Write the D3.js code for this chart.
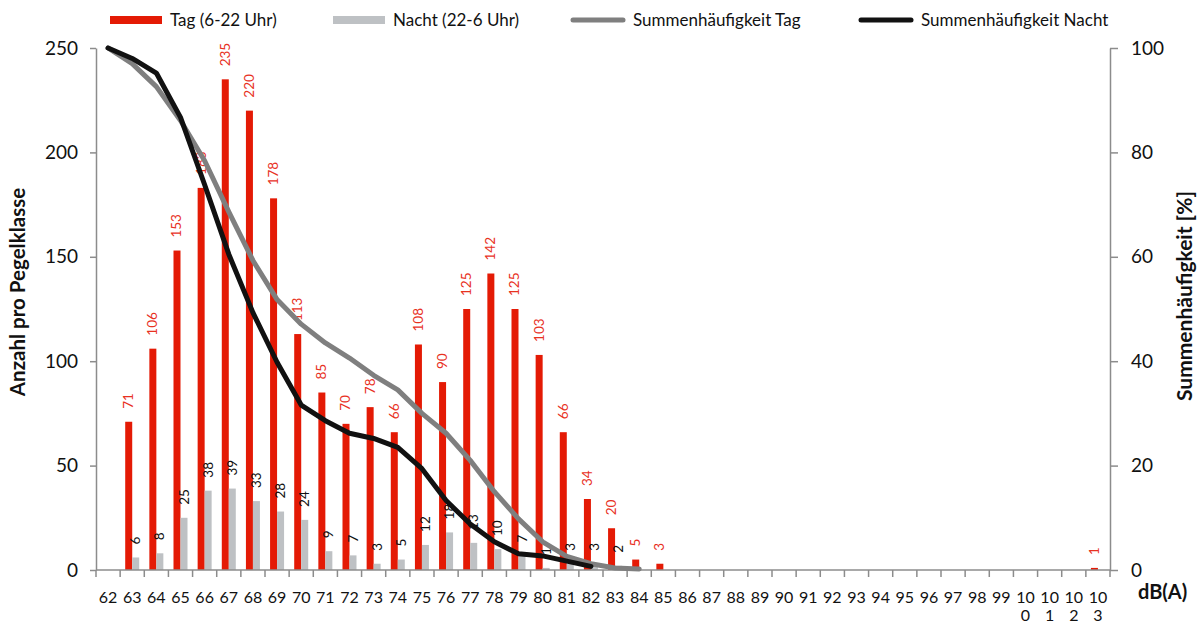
<!DOCTYPE html>
<html>
<head>
<meta charset="utf-8">
<script src="https://cdn.jsdelivr.net/npm/d3@7/dist/d3.min.js"></script>
<style>
  html, body { margin: 0; padding: 0; background: #fff; }
  svg { display: block; font-family: Lato, "Open Sans", sans-serif; }
</style>
</head>
<body>
<svg id="chart" width="1203" height="624"></svg>
<script>
// ---- data ----
const categories = ["62","63","64","65","66","67","68","69","70","71","72","73","74","75","76","77","78","79","80","81","82","83","84","85","86","87","88","89","90","91","92","93","94","95","96","97","98","99","100","101","102","103"];
const tagValues   = [0,71,106,153,183,235,220,178,113,85,70,78,66,108,90,125,142,125,103,66,34,20,5,3,0,0,0,0,0,0,0,0,0,0,0,0,0,0,0,0,0,1];
const nachtValues = [0,6,8,25,38,39,33,28,24,9,7,3,5,12,18,13,10,7,1,3,3,2,0,0,0,0,0,0,0,0,0,0,0,0,0,0,0,0,0,0,0,0];
// cumulative (exceedance) percentages
const cumTagCats   = ["62","63","64","65","66","67","68","69","70","71","72","73","74","75","76","77","78","79","80","81","82","83","84"];
const cumTagValues = [100,97.0,92.6,86.1,78.4,68.6,59.3,51.8,47.1,43.5,40.6,37.3,34.5,30.0,26.2,21.0,15.0,9.8,5.4,2.6,1.2,0.4,0.2];
const cumNachtCats   = ["62","63","64","65","66","67","68","69","70","71","72","73","74","75","76","77","78","79","80","81","82"];
const cumNachtValues = [100,98.0,95.2,86.7,73.8,60.5,49.3,39.8,31.6,28.6,26.2,25.2,23.5,19.4,13.3,8.8,5.4,3.1,2.7,1.7,0.7];
const leftTicks  = [0,50,100,150,200,250];
const rightTicks = [0,20,40,60,80,100];
const seriesNames = ["Tag (6-22 Uhr)","Nacht (22-6 Uhr)","Summenhäufigkeit Tag","Summenhäufigkeit Nacht"];

// ---- layout ----
const mLeft = 96, mRight = 1110, mTop = 48, mBottom = 570;
const RED = "#E41A05", RED_LABEL = "#E8321F", GREY_BAR = "#BEC1C4", GREY_LINE = "#7F7F7F", BLACK = "#111111", AXIS = "#8C8C8C";

const svg = d3.select("#chart");

const x = d3.scaleBand().domain(categories).range([mLeft, mRight]).padding(0);
const bw = x.bandwidth();
const x1 = d3.scaleBand().domain(["tag","nacht"]).range([0, bw]).paddingInner(0).paddingOuter(0.724);
const yL = d3.scaleLinear().domain([0, 250]).range([mBottom, mTop]);
const yR = d3.scaleLinear().domain([0, 100]).range([mBottom, mTop]);

// ---- bars ----
const rows = categories.map((c, i) => ({c, tag: tagValues[i], nacht: nachtValues[i]}));
svg.append("g").selectAll("rect").data(rows.filter(d => d.tag > 0)).join("rect")
  .attr("x", d => x(d.c) + x1("tag"))
  .attr("width", x1.bandwidth())
  .attr("y", d => yL(d.tag))
  .attr("height", d => yL(0) - yL(d.tag))
  .attr("fill", RED);
svg.append("g").selectAll("rect").data(rows.filter(d => d.nacht > 0)).join("rect")
  .attr("x", d => x(d.c) + x1("nacht"))
  .attr("width", x1.bandwidth())
  .attr("y", d => yL(d.nacht))
  .attr("height", d => yL(0) - yL(d.nacht))
  .attr("fill", GREY_BAR);

// ---- data labels ----
const lblGap = 13;
svg.append("g").selectAll("text").data(rows.filter(d => d.tag > 0)).join("text")
  .attr("transform", d => `translate(${x(d.c) + x1("tag") + x1.bandwidth()/2 + 4.5},${yL(d.tag) - lblGap}) rotate(-90)`)
  .attr("font-size", 13.5).attr("fill", RED_LABEL).attr("text-anchor", "start")
  .text(d => d.tag);
svg.append("g").selectAll("text").data(rows.filter(d => d.nacht > 0)).join("text")
  .attr("transform", d => `translate(${x(d.c) + x1("nacht") + x1.bandwidth()/2 + 4.5},${yL(d.nacht) - lblGap}) rotate(-90)`)
  .attr("font-size", 13.5).attr("fill", "#111").attr("text-anchor", "start")
  .text(d => d.nacht);

// ---- axes ----
const gL = svg.append("g").attr("transform", `translate(${mLeft},0)`)
  .call(d3.axisLeft(yL).tickValues(leftTicks).tickSize(6).tickSizeOuter(0).tickPadding(12));
gL.select(".domain").attr("stroke", AXIS).attr("stroke-width", 1.5);
gL.selectAll(".tick line").attr("stroke", AXIS).attr("stroke-width", 1.5);
gL.selectAll(".tick text").attr("font-size", 19).attr("fill", "#111").attr("font-family", "Lato, sans-serif");

const gR = svg.append("g").attr("transform", `translate(${mRight},0)`)
  .call(d3.axisRight(yR).tickValues(rightTicks).tickSize(8).tickSizeOuter(0).tickPadding(13));
gR.select(".domain").attr("stroke", AXIS).attr("stroke-width", 1.5);
gR.selectAll(".tick line").attr("stroke", AXIS).attr("stroke-width", 1.5);
gR.selectAll(".tick text").attr("font-size", 19).attr("fill", "#111").attr("font-family", "Lato, sans-serif");

// x axis line and boundary ticks
const gX = svg.append("g");
gX.append("line").attr("x1", mLeft).attr("x2", mRight).attr("y1", mBottom).attr("y2", mBottom)
  .attr("stroke", AXIS).attr("stroke-width", 1.5);
const bounds = categories.map(c => x(c)).concat([x(categories[categories.length-1]) + bw]);
gX.selectAll("line.tk").data(bounds).join("line").attr("class", "tk")
  .attr("x1", d => d).attr("x2", d => d).attr("y1", mBottom).attr("y2", mBottom + 7)
  .attr("stroke", AXIS).attr("stroke-width", 1.5);
const xl = gX.selectAll("text.xl").data(categories).join("text").attr("class", "xl")
  .attr("x", d => x(d) + bw/2).attr("y", 603)
  .attr("text-anchor", "middle").attr("font-size", 16).attr("fill", "#111");
xl.each(function(d) {
  const t = d3.select(this);
  if (d.length > 2) {
    t.append("tspan").attr("x", x(d) + bw/2).attr("y", 603).text(d.slice(0, 2));
    t.append("tspan").attr("x", x(d) + bw/2).attr("y", 621).text(d.slice(2));
  } else {
    t.text(d);
  }
});

// ---- lines ----
const lineT = d3.line().x((d, i) => x(cumTagCats[i]) + bw/2).y(d => yR(d));
const lineN = d3.line().x((d, i) => x(cumNachtCats[i]) + bw/2).y(d => yR(d));
svg.append("path").attr("d", lineT(cumTagValues)).attr("fill", "none")
  .attr("stroke", GREY_LINE).attr("stroke-width", 5).attr("stroke-linejoin", "round").attr("stroke-linecap", "round");
svg.append("path").attr("d", lineN(cumNachtValues)).attr("fill", "none")
  .attr("stroke", BLACK).attr("stroke-width", 5).attr("stroke-linejoin", "round").attr("stroke-linecap", "round");

// ---- axis titles ----
svg.append("text").attr("transform", "translate(25,292) rotate(-90)")
  .attr("text-anchor", "middle").attr("font-size", 20.5).attr("font-weight", "bold").attr("fill", "#111")
  .text("Anzahl pro Pegelklasse");
svg.append("text").attr("transform", "translate(1192,296) rotate(-90)")
  .attr("text-anchor", "middle").attr("font-size", 21).attr("font-weight", "bold").attr("fill", "#111")
  .text("Summenhäufigkeit [%]");
svg.append("text").attr("x", 1138).attr("y", 599)
  .attr("font-size", 20).attr("font-weight", "bold").attr("fill", "#111").text("dB(A)");

// ---- legend ----
const lg = svg.append("g").attr("font-size", 17).attr("fill", "#111");
const legendItems = [
  {name: seriesNames[0], x: 110, type: "rect", color: RED},
  {name: seriesNames[1], x: 333, type: "rect", color: GREY_BAR},
  {name: seriesNames[2], x: 573, type: "line", color: GREY_LINE},
  {name: seriesNames[3], x: 861, type: "line", color: BLACK}
];
legendItems.forEach(it => {
  if (it.type === "rect") {
    lg.append("rect").attr("x", it.x).attr("y", 16).attr("width", 52).attr("height", 8).attr("fill", it.color);
  } else {
    lg.append("line").attr("x1", it.x).attr("x2", it.x + 50).attr("y1", 20).attr("y2", 20)
      .attr("stroke", it.color).attr("stroke-width", 5).attr("stroke-linecap", "round");
  }
  lg.append("text").attr("x", it.x + 60).attr("y", 26).text(it.name);
});
</script>
</body>
</html>
